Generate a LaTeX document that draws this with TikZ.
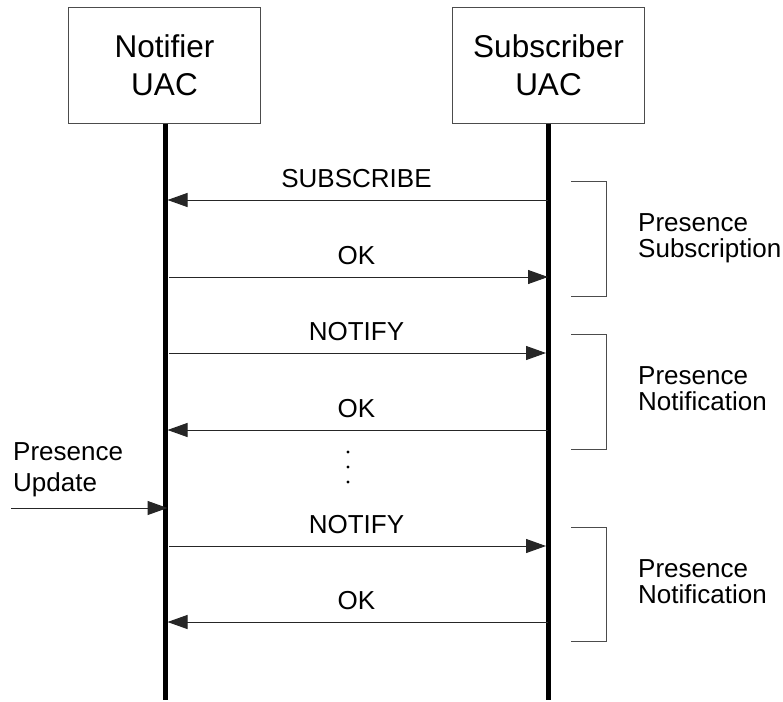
\documentclass[tikz,border=0pt]{standalone}
\usepackage{fontspec}
\setmainfont{Liberation Sans}
\usetikzlibrary{arrows.meta}

\begin{document}
\begin{tikzpicture}[x=1pt, y=-1pt,
  actor/.style={draw=black!70, line width=1pt, minimum width=192pt, minimum height=115pt,
    inner sep=0pt, align=center, font=\fontsize{31.5}{38}\selectfont},
  lifeline/.style={line width=5pt, black},
  msg/.style={draw=black!85, line width=1pt, -{Triangle[length=20pt, width=14pt]}},
  msglabel/.style={anchor=base, inner sep=0pt, font=\fontsize{26}{27}\selectfont},
  phase/.style={draw=black!70, line width=1pt},
  phaselabel/.style={anchor=north west, inner sep=0pt, align=left, font=\fontsize{26}{26}\selectfont},
  dotmark/.style={fill=black, draw=none}]

\useasboundingbox (0,0) rectangle (783,701);

% participants
\node[actor] (notifier)   at (164.5,65.5) {Notifier\\UAC};
\node[actor] (subscriber) at (548.5,65.5) {Subscriber\\UAC};

% lifelines
\coordinate (nend) at (165,700);
\coordinate (send) at (548,700);
\draw[lifeline] (notifier.south -| nend) -- (nend);
\draw[lifeline] (subscriber.south -| send) -- (send);

% message end points on the lifelines
\foreach \i/\y in {1/200, 2/277, 3/353, 4/430, 5/546, 6/622} {
  \coordinate (nl\i) at (167.5,\y);
  \coordinate (no\i) at (169,\y);
  \coordinate (sl\i) at (548,\y);
  \coordinate (si\i) at (546,\y);
}
\coordinate (upd) at (11,508);
\coordinate (nupd) at (167.5,508);

% messages
\draw[msg] (sl1) -- (nl1);
\node[msglabel] (m1) at (356.5,187) {SUBSCRIBE};
\draw[msg] (no2) -- (sl2);
\node[msglabel] (m2) at (356.5,264) {OK};
\draw[msg] (no3) -- (si3);
\node[msglabel] (m3) at (356.5,340) {NOTIFY};
\draw[msg] (sl4) -- (nl4);
\node[msglabel] (m4) at (356.5,417) {OK};
\draw[msg] (upd) -- (nupd);
\draw[msg] (no5) -- (si5);
\node[msglabel] (m5) at (356.5,533) {NOTIFY};
\draw[msg] (sl6) -- (nl6);
\node[msglabel] (m6) at (356.5,609) {OK};

% continuation dots
\foreach \y in {452,467,482} \fill[dotmark] (348,\y) circle (1.7);

% phase brackets
\draw[phase] (571,181) -- (606,181) -- (606,296) -- (571,296);
\draw[phase] (571,334) -- (606,334) -- (606,449) -- (571,449);
\draw[phase] (571,527) -- (606,527) -- (606,641) -- (571,641);

\node[phaselabel] (p1) at (638,213.4) {Presence\\Subscription};
\node[phaselabel] (p2) at (638,366.4) {Presence\\Notification};
\node[phaselabel] (p3) at (638,559.4) {Presence\\Notification};

% external trigger
\node[phaselabel, font=\fontsize{26}{31}\selectfont] (pu) at (13,442.4) {Presence\\Update};

\end{tikzpicture}
\end{document}
